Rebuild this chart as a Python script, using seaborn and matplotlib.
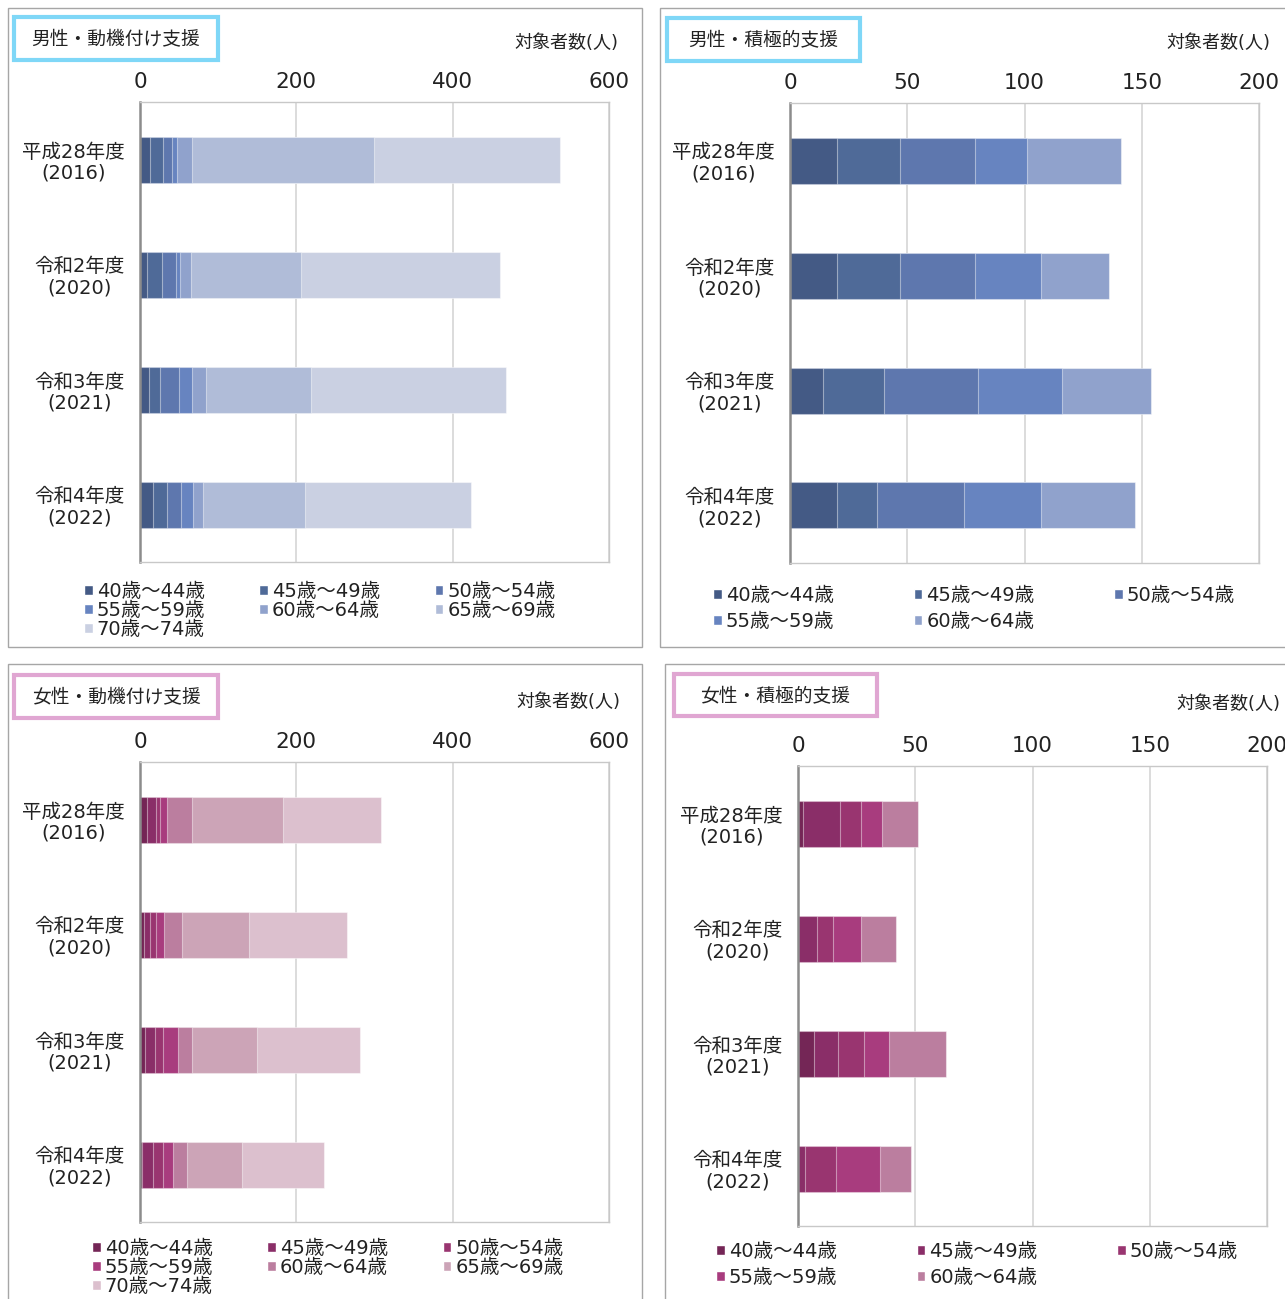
import pandas as pd
import seaborn as sns
from matplotlib import pyplot as plt
from matplotlib.patches import Rectangle, Patch

# %%
years = ["平成28年度\n(2016)", "令和2年度\n(2020)", "令和3年度\n(2021)", "令和4年度\n(2022)"]
ages = ["40歳〜44歳", "45歳〜49歳", "50歳〜54歳", "55歳〜59歳",
        "60歳〜64歳", "65歳〜69歳", "70歳〜74歳"]

# valores por faixa etaria (linhas) e ano (colunas)
male_motiv = [
    [13, 9, 11, 17],
    [17, 19, 15, 17],
    [11, 18, 24, 19],
    [6, 5, 17, 15],
    [19, 14, 17, 13],
    [233, 141, 135, 130],
    [238, 255, 249, 212],
]
male_active = [
    [20, 20, 14, 20],
    [27, 27, 26, 17],
    [32, 32, 40, 37],
    [22, 28, 36, 33],
    [40, 29, 38, 40],
]
female_motiv = [
    [9, 5, 7, 2],
    [11, 8, 12, 15],
    [6, 7, 10, 13],
    [9, 11, 19, 12],
    [32, 23, 19, 18],
    [116, 86, 83, 71],
    [125, 125, 132, 104],
]
female_active = [
    [2, 0, 7, 0],
    [16, 8, 10, 3],
    [9, 7, 11, 13],
    [9, 12, 11, 19],
    [15, 15, 24, 13],
]

blues = ["#445a85", "#4f6a98", "#5e77ae", "#6784c0", "#90a2cc", "#b0bcd8", "#cad0e2"]
pinks = ["#742656", "#8a2e68", "#993570", "#a83c7e", "#bb7e9f", "#cca4b7", "#dcc0ce"]

# %%
W, H = 1285, 1299
sns.set_style("white")
plt.rcParams['font.family'] = ['DejaVu Sans', 'Noto Sans CJK JP']
plt.rcParams['text.color'] = '#222222'
plt.rcParams['xtick.color'] = '#222222'
plt.rcParams['ytick.color'] = '#222222'

fig = plt.figure(figsize=(W / 100, H / 100), dpi=100)


def fx(px):
    return px / W


def fy(py):
    return 1 - py / H


def frame(x0, y0, x1, y1, color, lw):
    fig.add_artist(Rectangle((fx(x0), fy(y1)), (x1 - x0) / W, (y1 - y0) / H,
                             transform=fig.transFigure, fill=False,
                             edgecolor=color, linewidth=lw))


def panel(values, colors, xmax, step, box, title, title_box, box_color, unit_xy,
          legend_xy, colspace, rowspace):
    left, top, right, bottom = box
    ax = fig.add_axes([fx(left), fy(bottom), (right - left) / W, (bottom - top) / H])

    n = len(values)
    rows = []
    for i in range(n):
        for j, y in enumerate(years):
            rows.append({'ano': y, 'faixa': ages[i], 'valor': values[i][j]})
    df = pd.DataFrame(rows)
    df['acum'] = df.groupby('ano')['valor'].cumsum()

    # barras empilhadas: desenha o acumulado do maior para o menor
    for i in reversed(range(n)):
        sns.barplot(data=df[df['faixa'] == ages[i]], x='acum', y='ano', order=years,
                    color=colors[i], width=0.4, errorbar=None, ax=ax,
                    edgecolor=(1, 1, 1, 0.45), linewidth=0.8, saturation=1)

    ax.set_xlim(0, xmax)
    ax.set_xticks(range(0, xmax + 1, step))
    ax.xaxis.tick_top()
    ax.tick_params(axis='x', length=0, pad=7, labelsize=15.5)
    ax.tick_params(axis='y', length=0, pad=11, labelsize=14)
    for t in ax.get_yticklabels():
        t.set_multialignment('center')
        t.set_linespacing(1.15)
    ax.set_xlabel('')
    ax.set_ylabel('')
    ax.grid(axis='x', color='#d9d9d9', linewidth=1.3)
    ax.set_axisbelow(True)
    for s in ['top', 'right', 'bottom']:
        ax.spines[s].set_color('#c8c8c8')
        ax.spines[s].set_linewidth(1)
    ax.spines['left'].set_color('#8c8c8c')
    ax.spines['left'].set_linewidth(1.8)

    # caixa do titulo
    tx0, ty0, tx1, ty1 = title_box
    frame(tx0, ty0, tx1, ty1, box_color, 3)
    fig.text(fx((tx0 + tx1) / 2), fy((ty0 + ty1) / 2 + 1.5), title, ha='center',
             va='center', fontsize=13.5)
    fig.text(fx(unit_xy[0]), fy(unit_xy[1]), '対象者数(人)', ha='right',
             va='center', fontsize=13)

    # legenda em ordem de linhas
    handles = [Patch(facecolor=colors[i], label=ages[i]) for i in range(n)]
    order = [0, 3, 6, 1, 4, 2, 5] if n == 7 else [0, 3, 1, 4, 2]
    fig.legend(handles=[handles[k] for k in order], loc='upper left',
               bbox_to_anchor=(fx(legend_xy[0]), fy(legend_xy[1])),
               ncol=3, frameon=False, fontsize=14, handlelength=0.45,
               handleheight=0.45, handletextpad=0.2, columnspacing=colspace,
               labelspacing=rowspace, borderpad=0, borderaxespad=0)
    return ax


# molduras dos paineis
frame(8, 8, 642, 647, '#a6a6a6', 1)
frame(660, 8, 1295, 647, '#a6a6a6', 1)
frame(8, 664, 642, 1310, '#a6a6a6', 1)
frame(665, 664, 1295, 1310, '#a6a6a6', 1)

panel(male_motiv, blues, 600, 200, (140, 102, 609, 562), '男性・動機付け支援',
      (14, 17, 218, 60), '#7fd7f7', (618, 43), (84, 582), 2.8, 0.0)
panel(male_active, blues[:5], 200, 50, (790, 103, 1259, 563), '男性・積極的支援',
      (667, 18, 860, 61), '#7fd7f7', (1270, 43), (713, 586), 4.1, 0.35)
panel(female_motiv, pinks, 600, 200, (140, 762, 609, 1222), '女性・動機付け支援',
      (14, 675, 218, 718), '#e0a6d2', (620, 702), (92, 1239), 2.8, 0.0)
panel(female_active, pinks[:5], 200, 50, (798, 766, 1267, 1226), '女性・積極的支援',
      (674, 674, 877, 716), '#e0a6d2', (1280, 704), (716, 1242), 4.1, 0.35)

fig.savefig('out.png', dpi=100)
